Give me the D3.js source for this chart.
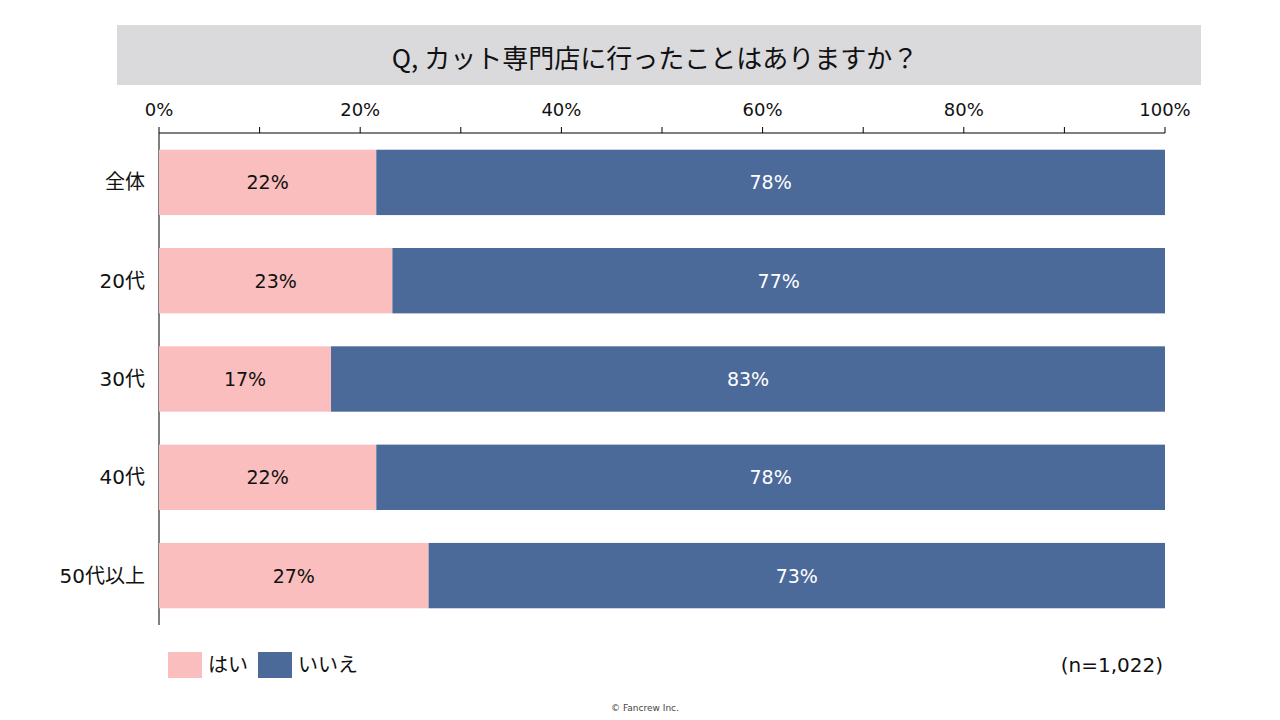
<!DOCTYPE html>
<html>
<head>
<meta charset="utf-8">
<script src="https://cdn.jsdelivr.net/npm/d3@7"></script>
<style>
  body { margin: 0; background: #fff; }
  svg { font-family: "DejaVu Sans", "Noto Sans CJK JP", sans-serif; }
  .title { font-family: "Noto Sans CJK JP", sans-serif; }
</style>
</head>
<body>
<svg id="chart" width="1280" height="720"></svg>
<script>
// values
const categories = ["全体", "20代", "30代", "40代", "50代以上"];
const yesValues = [21.6, 23.2, 17.1, 21.6, 26.8];
const noValues = [78.4, 76.8, 82.9, 78.4, 73.2];
const seriesNames = ["はい", "いいえ"];
const seriesColors = ["#FABEBE", "#4B6A9A"];
const tickValues = [0, 20, 40, 60, 80, 100];
const titleText = "Q, カット専門店に行ったことはありますか？";
const sampleText = "(n=1,022)";
const creditText = "© Fancrew Inc.";

const svg = d3.select("#chart");

// title band
svg.append("rect")
  .attr("x", 117).attr("y", 25).attr("width", 1084).attr("height", 60)
  .attr("fill", "#DADADD");
svg.append("text")
  .attr("class", "title")
  .attr("x", 655).attr("y", 56)
  .attr("text-anchor", "middle").attr("dominant-baseline", "central")
  .attr("font-size", 26).attr("fill", "#111")
  .text(titleText);

const x = d3.scaleLinear().domain([0, 100]).range([159, 1165]);
const y = d3.scaleBand().domain(categories).range([133, 625]).paddingInner(0.335).paddingOuter(0.17);

// top axis
const axis = svg.append("g").attr("transform", "translate(0,133)");
axis.append("line")
  .attr("x1", x(0)).attr("x2", x(100))
  .attr("stroke", "#000").attr("stroke-width", 1);
axis.selectAll("line.tick")
  .data(d3.range(0, 101, 10))
  .enter().append("line")
  .attr("class", "tick")
  .attr("x1", d => x(d)).attr("x2", d => x(d))
  .attr("y1", 0).attr("y2", -6)
  .attr("stroke", "#000");
axis.selectAll("text")
  .data(tickValues)
  .enter().append("text")
  .attr("x", d => x(d)).attr("y", -24)
  .attr("text-anchor", "middle").attr("dominant-baseline", "central")
  .attr("font-size", 18).attr("fill", "#111")
  .text(d => d + "%");

// left axis line
svg.append("line")
  .attr("x1", x(0)).attr("x2", x(0))
  .attr("y1", 133).attr("y2", 625)
  .attr("stroke", "#000");

const rows = categories.map((c, i) => ({ cat: c, yes: yesValues[i], no: noValues[i] }));

const row = svg.selectAll("g.row")
  .data(rows)
  .enter().append("g")
  .attr("class", "row");

row.append("rect")
  .attr("x", x(0))
  .attr("y", d => y(d.cat))
  .attr("width", d => x(d.yes) - x(0))
  .attr("height", y.bandwidth())
  .attr("fill", seriesColors[0]);

row.append("rect")
  .attr("x", d => x(d.yes))
  .attr("y", d => y(d.cat))
  .attr("width", d => x(d.yes + d.no) - x(d.yes))
  .attr("height", y.bandwidth())
  .attr("fill", seriesColors[1]);

row.append("text")
  .attr("x", d => (x(0) + x(d.yes)) / 2)
  .attr("y", d => y(d.cat) + y.bandwidth() / 2)
  .attr("text-anchor", "middle").attr("dominant-baseline", "central")
  .attr("font-size", 19).attr("fill", "#111")
  .text(d => Math.round(d.yes) + "%");

row.append("text")
  .attr("x", d => (x(d.yes) + x(d.yes + d.no)) / 2)
  .attr("y", d => y(d.cat) + y.bandwidth() / 2)
  .attr("text-anchor", "middle").attr("dominant-baseline", "central")
  .attr("font-size", 19).attr("fill", "#fff")
  .text(d => Math.round(d.no) + "%");

row.append("text")
  .attr("x", 145)
  .attr("y", d => y(d.cat) + y.bandwidth() / 2)
  .attr("text-anchor", "end").attr("dominant-baseline", "central")
  .attr("font-size", 20).attr("fill", "#111")
  .text(d => d.cat);

// legend
const legendX = [168, 258];
const legend = svg.selectAll("g.legend")
  .data(seriesNames)
  .enter().append("g")
  .attr("class", "legend")
  .attr("transform", (d, i) => `translate(${legendX[i]},652)`);
legend.append("rect")
  .attr("width", 34).attr("height", 26)
  .attr("fill", (d, i) => seriesColors[i]);
legend.append("text")
  .attr("x", 40).attr("y", 13)
  .attr("dominant-baseline", "central")
  .attr("font-size", 20).attr("fill", "#111")
  .text(d => d);

svg.append("text")
  .attr("x", 1163).attr("y", 665)
  .attr("text-anchor", "end").attr("dominant-baseline", "central")
  .attr("font-size", 20).attr("fill", "#111")
  .text(sampleText);

svg.append("text")
  .attr("x", 645).attr("y", 708)
  .attr("text-anchor", "middle").attr("dominant-baseline", "central")
  .attr("font-size", 9).attr("fill", "#444")
  .text(creditText);
</script>
</body>
</html>
